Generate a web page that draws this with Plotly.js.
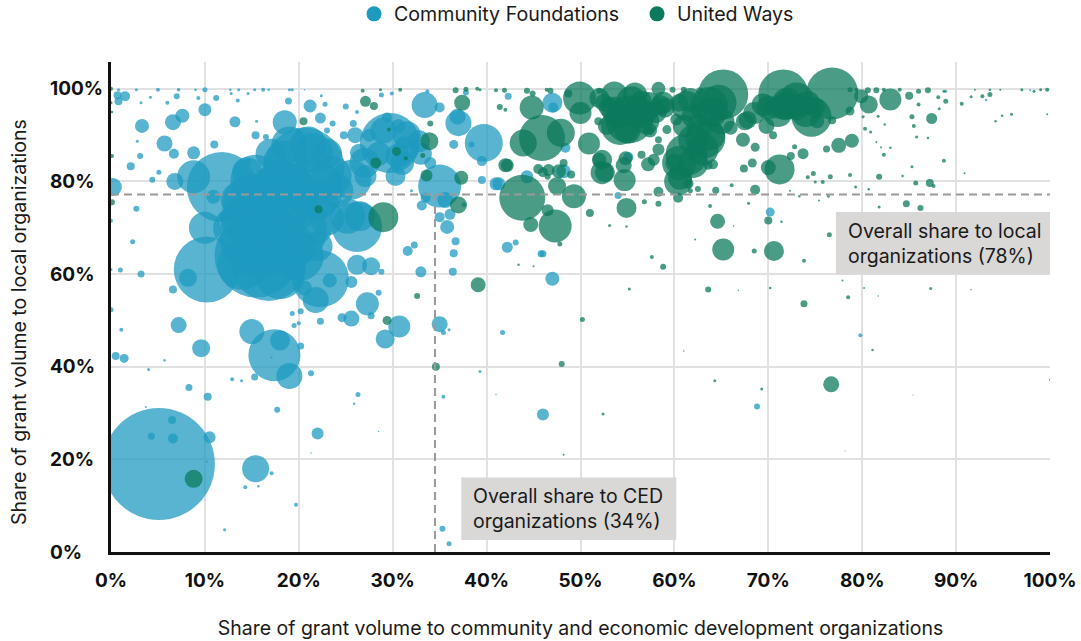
<!DOCTYPE html>
<html><head><meta charset="utf-8">
<script src="https://cdn.plot.ly/plotly-3.0.1.min.js"></script>
<style>html,body{margin:0;padding:0;background:#fff}#c{width:1081px;height:641px}</style>
</head><body><div id="c"></div>
<script>
// [share to CED %, share to local %, bubble diameter value]
var cfPoints = [
[5.1,19,112],[10.2,61,66],[15.5,64,84],[11.8,78.8,70],[20.6,83,80],[15.4,80.4,50],[18.6,84,45],[21.5,86.2,40],[23.5,81.2,40],[25.6,80.4,40],
[15,75.4,58],[18.3,76.8,70],[21.5,78.3,60],[15.8,68.2,80],[19.3,69.6,70],[16.8,62.4,76],[20,63.9,50],[21.5,70.4,40],[26.2,70.2,50],[25.2,72.5,35],[26.5,72.5,30],
[14,72,44],[16,77,40],[18,80,44],[20,78,40],[22,76,40],[24,78,34],[17,72,40],[19,66,50],[15,66,44],[13,70,40],[14,62,50],[18,60,50],[22,66,30],[23,72,34],[20,74,40],[17,86,30],[19,88,36],[21,88,36],[23,86,30],[14.5,82,30],[13.5,76,34],
[29,91,26],[31.5,90,28],[28.5,86,24],[31,84,24],[33,86,22],[34,84,12],[26,90,16],[27,84,30],
[22.3,59,57],[21.8,54.4,26],[20.6,57,15],[23.3,58.6,14],[25.6,58.3,12],[26.2,62,20],[27.7,61.7,18],[28.8,60.5,6],[27.3,53.6,23],[28.5,56,6],[30.7,48.7,22],[29.2,46,19],[25.6,50.4,16],[24.6,50.6,9],[27.7,51,7],
[10,70,32],[8.8,81,33],[6.8,80,17],[0.2,78.8,18],[35,79,43],[39.7,88.3,38],[33.4,96.5,26],[37,92.6,26],[36.9,94,16],[18.5,92.8,24],[29.7,88.3,60],[27.1,81.2,22],[26.4,86.2,18],
[32.8,88.7,22],[30.5,85.5,24],[31.4,87,25],[30.3,81.2,20],[27.5,90,13],[29.4,93.8,10],[30.6,92,14],[35,96,10],[36.5,88,9],[38.4,88,6],[39.5,84.4,10],[39.5,80.3,8],[41,79.5,13],
[17.4,42.5,52],[15,47.6,25],[18,45.7,20],[19,38,26],[7.2,49,16],[9.6,44,18],[0.5,42.3,8],[1.4,41.8,9],[15.4,18,27],[6.5,28.5,8],[6.6,24.5,10],[4.3,25,7],[10.5,24.8,12],[10.3,33.5,8],[8.3,35.5,7],[22,25.6,12],[17.7,30.7,6],[19.7,10.2,4],[12.1,4.8,3],[14.3,14,4],[15.7,14.2,2.5],[17.1,17,4],[35.3,5,6],[36,1.8,5],
[35,49.2,16],[35.4,47.4,5],[36,48,3],[46,29.7,12],[47,59,14],[42.2,65.8,11],[43.1,66.8,6],[45.8,64.4,7],[46,64.4,7],[47,97,20],[47.1,96,10],[48.4,87.3,10],[48.2,82.2,14],[44.3,81,13],[41.3,79.5,13],[42.3,98.4,7],[70.2,73.4,9],[68.8,31.4,6],[79.8,46.8,4],[55.1,85.3,10],[54,77,7],
[3.3,92,14],[6.6,92.8,16],[5.7,88.2,16],[10,95.5,13],[7.6,94.2,14],[13.2,92.9,11],[21.2,96.3,13],[22.3,93.7,11],[15.4,90,8],[16.5,89.6,6],[8.8,86.2,13],[6.7,86,10],[11,88,8],[3.1,85.5,6],[2.1,83.3,8],[1.5,98.4,10],[0.7,98.6,8],[0.8,97.3,8],[2.7,74.1,6],[2.3,67,5],[1,60.9,5],[3.2,60,7],[8.2,59.2,18],[6.6,56.7,8],[4.4,80.4,6],[5.1,82,5],[10.9,76.7,14],[12,72.3,10],
[33,60.5,11],[36.4,60.5,8],[36.5,64.5,8],[36.7,67.1,8],[35.8,70.2,14],[36.1,72.9,11],[35,72.3,10],[31.6,65,10],[32.3,66.3,7],[35.6,76,16],[33.1,74.8,10],[33.5,76.5,10],[37.6,75,5],[32,78,3],
[20,90.5,6],[24.8,90,8],[25.8,92.5,7],[23,91,6],[23.6,92.5,6],[22.8,96.7,5],[25,96.2,6],[26.2,95,4],[18.9,97.4,7],[15.5,93,3],[11.2,98,6],[12.8,99,3],[9.3,98,4],[6,97,4],[7,98.4,6],[4.2,98.2,3],[3.2,97,3],[13.5,97.5,4],[14.6,99,3],[14.6,84.3,6],[2.8,88.7,3],[21.3,38.6,6],[20.2,44.5,7],[19.5,48.9,5],[20,49.4,4],[19.3,51.5,5],[20.2,52,6],[22.3,49.8,7],
[4,39.4,3],[5.7,41.4,2.5],[1.1,48,4],[12.9,37.3,4],[13.9,37,3],[15.3,37.8,7],[3.7,31.3,2],[26.3,34,5],[25.9,32,2.5],[35.4,33.5,4],[39.3,39,3],[41,34,1.5],[41.7,47.4,5],[28.5,26,1.5],[21.3,21.4,1.5],[10.2,19.5,2],[17.1,42,2],[0,52.3,5],[0,71.5,4],[0,61,3],
[0.8,99.8,3],[2.7,99.8,3],[5,99.8,4],[7.2,99.8,3.5],[9,99.8,2.5],[10,99.8,5],[12.7,99.8,2.5],[13.6,99.8,3],[15.3,99.8,3],[16.2,99.8,4],[16.8,99.8,2.5],[19,99.8,3],[19.3,99.8,3],[20.6,99.8,1.5],[22.4,98.5,3],[28.8,98.7,5],[29.9,99,4],[33.7,99.5,4],[37.8,99.2,6],[88.9,99.5,3],[93.2,97.6,2.5],[97.9,99.7,2]
];
var uwPoints = [
[65.2,98.8,50],[71.6,98.8,50],[73,97.7,34],[76.8,99,52],[64.7,97,36],[74.6,94,40],[71.2,82.6,30],[83,97.7,22],[80.7,96.6,18],[87.4,93.6,11],[85,98.5,8],[78.9,88.8,14],[77.5,87.8,15],[73.7,86,11],[75.2,93,14],[76.8,93.2,8],[69.8,92,16],[70.5,90,8],[67.3,89,14],[67.5,93,18],[66,91.6,14],
[63.3,89.4,40],[61.3,85.8,42],[60.4,80,28],[60.4,76.5,10],[63.6,83.5,9],[55.2,93.4,48],[54.2,92,38],[53.6,98.8,26],[55.8,98.8,24],[58.3,100,14],[49.9,98,33],[50,94.8,22],[44.8,96,24],[45.9,89.4,46],[43.9,88.3,27],[47.9,90.5,28],[43.8,76.5,46],[47.3,70.4,33],[44.7,70.7,15],[46.5,73.8,12],[49.3,76.8,24],[47.5,79,18],[47.7,82.2,14],[42.2,83.5,13],[50.9,88.2,22],[52.3,84.7,20],[52.3,81.9,23],[54.7,80.3,22],[54.6,83.5,16],[57.2,83.7,14],[54.9,74.3,20],[51,73.2,8],
[56,95,30],[57,93,26],[55,91,26],[58,95,22],[59,96,20],[54,94,24],[53,96,20],[64,95,30],[65,93,26],[62,89,30],[63,87,32],[60.5,84,34],[62,84,30],[71,95,30],[72,97,30],[73,96,26],[74,95,30],[70,96,24],[75,96,20],[52.5,97,18],[56.5,97.5,20],[60.5,97,18],[61,92,22],
[52,98,20],[52.8,92,18],[58.5,96.5,20],[57.4,91,14],[61.7,97.6,24],[63.8,90,30],[57.8,84.7,12],[52.6,82,20],[52,84.7,14],[54.8,85,14],[60,84,18],[60.6,80.8,24],[61.5,79.5,10],[46,82,10],[48.2,84,8],[49,81.5,8],
[64.6,71.4,15],[65.2,65.3,22],[70.6,65,20],[70,71.6,8],[68.5,65,5],[58.3,77.8,10],[58.3,75.2,6],[56.8,75.6,5],[64.4,78.1,7],[68.6,78.2,10],[62.5,78.4,6],[84.7,75.2,7],[86.2,74.3,6],[87.2,79.7,8],[81.8,81,6],[78.7,81.4,4],[76.6,81,5],[73.8,62.9,4],[76.5,68.5,5],[58.8,61.6,6],[57.6,63.7,4],[63.6,56.7,6],[73.8,53.6,7],[78.5,55,4],[87.3,56.9,3],[39.1,57.7,15],[55.2,56.8,3],[70.2,57,2.5],[77.9,58.6,2],[50.2,50.2,5],
[76.7,36.2,16],[48,40.6,6],[34.6,40,8],[29.4,50,9],[8.8,15.8,18],[29,72.3,30],[33.9,88.7,18],[28.2,84,11],[30.4,86.5,9],[37.4,97,16],[20.5,93,8],[27.1,97.3,11],[28,96.3,8],[22.1,74,8],[33.6,81.3,12],[37.3,80.8,14],[37,74.9,17],[32.6,55.3,6],[42,83.5,14],[31.4,85,4],[29.6,91.2,4],[33.2,85.6,5],[34,92.5,6],
[57.2,96.3,28],[58.8,97,22],[56.4,94.8,30],[53.6,95.5,26],[55.4,97.3,30],[59.2,91.2,9],[57.4,90.9,8],[61.3,96.3,30],[63.7,96.3,38],[62.1,94.1,25],[62.7,91.9,25],[67.8,93.3,18],[68.5,94.8,22],[69.4,96.6,22],[71.8,96.3,28],[74.2,97,24],[78.7,95.2,9],[79.9,98.4,14],[58.3,86.9,12],[58.3,89,7],[60.2,93.4,12],[56.5,85.8,8],[68.6,87.4,9],[68.3,84,9],[67.4,82.8,8],[70,83,15],[72.4,85.5,8],[72.8,87.5,5],[76.2,87,7],[51.9,93,8],[41.4,96.1,6],[42,95.5,4],[45.5,82.7,10],[46.6,82.5,12],[46.5,81,6],[64.1,83.7,10],[61.7,78,5],[36.7,99.7,6],[39,100,4],[41,99.7,4],
[26.8,99.6,4],[28.7,99.8,3],[30.8,99.8,4],[37.8,99.9,5],[39.3,99.8,3],[41.9,99.7,5],[44.3,99.6,6],[44.9,99,6],[46.4,99.8,4],[46.8,99.6,6],[48.7,99,8],[52,99.6,6],[59.8,99.8,6],[61,99.8,6],[62.7,99.6,7],[78.7,99.8,5],[79.4,99.8,4],[80.6,99.7,6],[81.5,99.7,6],[82.3,99.8,4],[84,99.8,4],[86,99.5,5],[87,99.7,6],[88.7,99.5,3],
[92,99.8,2],[93.6,99.8,2.5],[94.7,99.8,2],[97,99.8,3],[98.3,99.5,3],[99,99.8,3],[99.7,99.8,4],[93.6,98.8,5],[92.8,98.4,4],[91.6,98.3,3],[90.6,96.8,4],[88.9,97.3,5],[88.1,98.2,4],[86,96.6,4],[88.2,95.7,3],[85.3,94,5],[85.5,92,4],[85.8,89.6,3],[87,89.4,2.5],[82.3,85.8,4],[83,87.3,2.5],[82,87.4,2],[81.5,88.5,2],[80.9,90.7,3],[80.3,91.4,4],[80.1,94,3],[82.4,92.3,2.5],[81.7,94.1,3],[85.3,83.2,3],[88.7,84.5,4],[84.3,81.2,2.5],[85.7,79.7,5],[90.9,81.8,2],[95.9,94.5,3],[94.9,94.2,2.5],[94.2,93,2.5],[99.7,94.5,2],[87.6,79,4],[80.7,78.3,2.5],[79.3,78.8,3],[81.8,74.5,3],[75.4,75.9,2],[80.2,57,2],[91.6,56.6,1.5],[81.7,55.3,1.5],
[75.8,79.9,4],[75,79.9,3],[74.2,80.9,4],[74.8,81.7,5],[73.3,76.8,2.5],[76.4,76.8,3],[72.3,78,2],[66.1,79.2,4],[67.9,75.3,3],[63.8,74.7,4],[66.3,70.4,1.5],[62.2,67.5,2],[53.1,70.5,3],[54.9,70.3,2.5],[47.8,66.5,5],[45,61.7,2],[43.4,62,2.5],[71.4,71.3,2.5],[64.3,37,3],[69.3,35.2,3],[61,43.4,1.5],[81.1,43.6,2.5],[52.4,29.8,3],[48.2,21,2],[78.2,21.8,1],[85.4,33.9,1],[66.8,56.5,1.5],[100,37.2,2],
[0,100,4],[0,97,3],[0.1,85.5,4],[0.1,75.5,6],[0.1,95,2.5]
];
var xTickValues = [0,10,20,30,40,50,60,70,80,90,100];
var yTickValues = [0,20,40,60,80,100];
var overallCed = 34.5, overallLocal = 77.2;

var BLUE='#1e9ac0', GREEN='#0b7a5c', INK='#1a1a1a', FONT='Inter, "Noto Sans", sans-serif';
function col(a,i){return a.map(function(r){return r[i];});}
function bubble(name,pts,c){return {type:'scatter',mode:'markers',name:name,showlegend:false,x:col(pts,0),y:col(pts,1),
  marker:{size:col(pts,2),sizemode:'diameter',sizeref:1,sizemin:0,color:c,opacity:0.74,line:{width:0}},hoverinfo:'x+y'};}
function key(name,c){return {type:'scatter',mode:'markers',name:name,x:[null],y:[null],marker:{size:15,color:c,opacity:1}};}
var traces=[bubble('Community Foundations',cfPoints,BLUE),bubble('United Ways',uwPoints,GREEN),key('Community Foundations',BLUE),key('United Ways',GREEN)];

var shapes=[
 {type:'line',xref:'x',yref:'y',x0:0,x1:100,y0:overallLocal,y1:overallLocal,line:{color:'#9a9a9a',width:2,dash:'8px,5px'},layer:'above'},
 {type:'line',xref:'x',yref:'y',x0:overallCed,x1:overallCed,y0:0,y1:overallLocal,line:{color:'#9a9a9a',width:2,dash:'8px,5px'},layer:'above'},
 {type:'rect',xref:'x',yref:'y',x0:77.2,x1:100,y0:59.9,y1:73.4,fillcolor:'#d9d8d6',line:{width:0},layer:'above'},
 {type:'rect',xref:'x',yref:'y',x0:37.3,x1:60.2,y0:2.6,y1:16.1,fillcolor:'#d9d8d6',line:{width:0},layer:'above'}
];
var annFont={family:FONT,size:19.5,color:INK};
var tickFont={family:FONT,size:19,color:'#111'};
var annotations=[
 {xref:'x',yref:'y',x:78.25,y:66.7,xanchor:'left',yanchor:'middle',align:'left',showarrow:false,text:'Overall share to local<br>organizations (78%)',font:annFont},
 {xref:'x',yref:'y',x:38.35,y:9.4,xanchor:'left',yanchor:'middle',align:'left',showarrow:false,text:'Overall share to CED<br>organizations (34%)',font:annFont},
 {xref:'paper',yref:'paper',x:0,y:0.5,xshift:-92,yshift:-15,xanchor:'center',yanchor:'middle',textangle:-90,showarrow:false,text:'Share of grant volume to local organizations',font:annFont}
];
yTickValues.forEach(function(v){annotations.push({xref:'paper',yref:'y',x:0,y:v,xshift:-63,xanchor:'left',yanchor:'middle',showarrow:false,text:'<b>'+v+'%</b>',font:tickFont});});

var layout={width:1081,height:641,margin:{l:111,r:31,t:62,b:89,pad:0},paper_bgcolor:'#fff',plot_bgcolor:'#fff',font:{family:FONT,color:INK},
 showlegend:true,
 legend:{orientation:'h',xref:'container',yref:'container',x:0.3275,xanchor:'left',y:0.978,yanchor:'middle',entrywidth:238,entrywidthmode:'pixels',font:{family:FONT,size:19.6,color:INK},itemclick:false,bgcolor:'rgba(0,0,0,0)'},
 xaxis:{range:[0,100],tickmode:'array',tickvals:xTickValues,ticktext:xTickValues.map(function(v){return '<b>'+v+'%</b>';}),tickfont:tickFont,ticks:'',ticklabelstandoff:9,showgrid:true,gridcolor:'#e1e1e1',gridwidth:2,zeroline:false,showline:true,linecolor:'#111',linewidth:3,automargin:false,
   title:{text:'Share of grant volume to community and economic development organizations',font:annFont,standoff:31}},
 yaxis:{range:[0,105.8],tickmode:'array',tickvals:yTickValues,showticklabels:false,ticks:'',showgrid:true,gridcolor:'#e1e1e1',gridwidth:2,zeroline:false,showline:true,linecolor:'#111',linewidth:3,automargin:false},
 shapes:shapes,annotations:annotations,hovermode:'closest'};
Plotly.newPlot('c',traces,layout,{displayModeBar:false,staticPlot:false});
</script></body></html>
